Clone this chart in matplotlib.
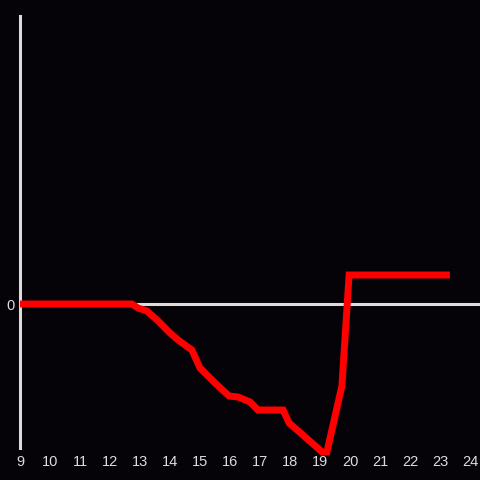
import matplotlib.pyplot as plt

# hours of the day vs. running balance
hours = [9.0, 12.73, 12.93, 13.23, 13.57, 14.0, 14.27, 14.73, 15.0, 15.5,
         15.97, 16.27, 16.67, 16.93, 17.77, 17.97, 18.43, 19.07, 19.23,
         19.73, 19.97, 23.33]
balance = [0.0, 0.0, -0.4, -0.7, -1.6, -2.9, -3.6, -4.6, -6.4, -7.9,
           -9.2, -9.3, -9.8, -10.6, -10.6, -11.9, -13.1, -14.8, -14.8,
           -8.2, 2.9, 2.9]
x_ticks = list(range(9, 25))

BG = "#050307"
INK = "#dcdcdc"

plt.rcParams["font.family"] = ["Liberation Sans", "DejaVu Sans"]

fig = plt.figure(figsize=(4.8, 4.8), dpi=100, facecolor=BG)
ax = fig.add_axes([20 / 480, 32 / 480, 460 / 480, 432 / 480], facecolor=BG)

ax.set_xlim(9, 9 + 460 / 30)
ax.set_ylim(-14.4, 28.8)

ax.axhline(0, color=INK, lw=2.2, zorder=1)
ax.plot(hours, balance, color="#ff0000", lw=5, solid_joinstyle="miter",
        solid_capstyle="butt", clip_on=False, zorder=3)

for side in ["top", "right", "bottom"]:
    ax.spines[side].set_visible(False)
ax.spines["left"].set_color(INK)
ax.spines["left"].set_linewidth(2.2)

ax.set_xticks(x_ticks)
ax.set_yticks([0])
ax.tick_params(axis="x", length=0, pad=5, labelsize=10.5, labelcolor=INK)
ax.tick_params(axis="y", length=0, pad=4, labelsize=10.5, labelcolor=INK)

fig.savefig("out.png", facecolor=BG)
